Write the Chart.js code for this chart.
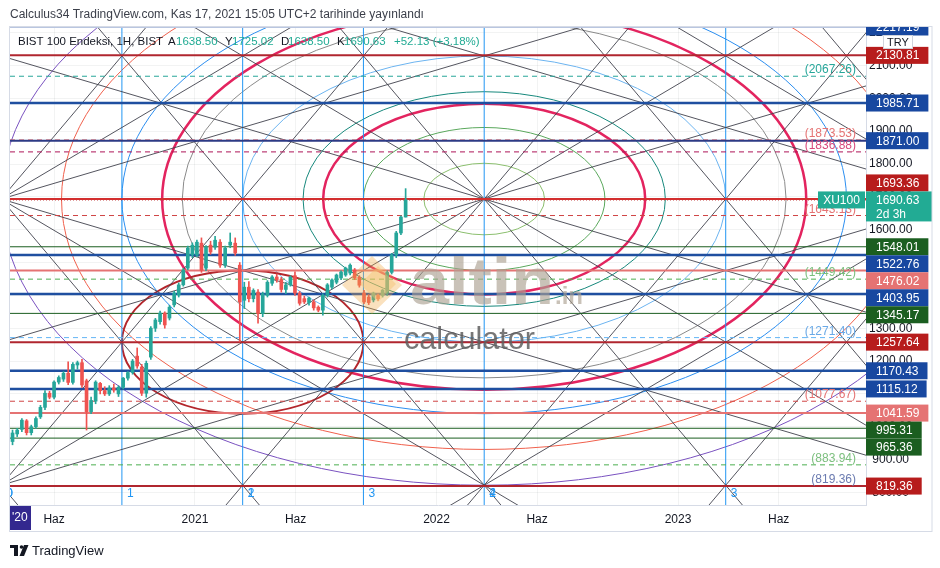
<!DOCTYPE html>
<html>
<head>
<meta charset="utf-8">
<script src="https://cdn.jsdelivr.net/npm/chart.js@4.4.1/dist/chart.umd.min.js"></script>
<style>
  html, body { margin: 0; padding: 0; background: #fff; }
  canvas { display: block; }
</style>
</head>
<body>
<canvas id="chart" width="940" height="568"></canvas>
<script>
// BIST 100 haftalık mumlar + Gann ızgarası, yayları ve seviye çizgileri (TradingView görüntüsünden)

const FONT = "'Trebuchet MS', 'Liberation Sans', Arial, sans-serif";

// ---- veriler ----
const firstWeek = '2020-03-23';
const candleOpen = [905, 955, 978, 992, 1018, 982, 1000, 1030, 1059, 1102, 1090, 1136, 1145, 1163, 1135, 1188, 1195, 1140, 1046, 1078,
  1132, 1110, 1100, 1118, 1100, 1120, 1148, 1165, 1215, 1182, 1102, 1212, 1300, 1320, 1346, 1331, 1371, 1401, 1432, 1483,
  1523, 1523, 1559, 1483, 1553, 1547, 1562, 1492, 1553, 1559, 1492, 1385, 1425, 1390, 1410, 1345, 1400, 1437, 1456, 1448,
  1418, 1432, 1460, 1407, 1390, 1378, 1380, 1364, 1355, 1400, 1425, 1440, 1453, 1462, 1468, 1477, 1455, 1407, 1395, 1386,
  1400, 1400, 1407, 1470, 1523, 1590, 1638.50];
const candleHigh = [975, 990, 995, 1025, 1022, 1005, 1030, 1065, 1110, 1108, 1140, 1155, 1168, 1198, 1195, 1200, 1205, 1145, 1090, 1140,
  1135, 1122, 1125, 1130, 1125, 1150, 1168, 1205, 1240, 1190, 1200, 1305, 1330, 1352, 1350, 1370, 1412, 1438, 1482, 1550,
  1560, 1568, 1575, 1552, 1565, 1580, 1570, 1550, 1590, 1575, 1500, 1440, 1442, 1420, 1418, 1410, 1445, 1460, 1465, 1455,
  1440, 1460, 1472, 1412, 1398, 1395, 1386, 1368, 1405, 1436, 1450, 1465, 1475, 1486, 1496, 1482, 1460, 1415, 1402, 1410,
  1404, 1418, 1475, 1528, 1595, 1642, 1725.02];
const candleLow = [895, 945, 970, 985, 975, 975, 995, 1025, 1052, 1085, 1085, 1130, 1138, 1128, 1130, 1175, 1120, 990, 1040, 1070,
  1100, 1095, 1095, 1105, 1092, 1115, 1142, 1160, 1178, 1095, 1090, 1205, 1290, 1312, 1300, 1325, 1365, 1395, 1428, 1478,
  1515, 1518, 1470, 1475, 1525, 1540, 1485, 1485, 1545, 1522, 1258, 1360, 1380, 1380, 1315, 1335, 1395, 1430, 1440, 1410,
  1405, 1428, 1400, 1370, 1375, 1370, 1355, 1350, 1340, 1395, 1420, 1435, 1448, 1458, 1462, 1448, 1425, 1375, 1372, 1380,
  1385, 1395, 1400, 1465, 1515, 1585, 1638.50];
const candleClose = [968, 981, 990, 1020, 982, 1000, 1025, 1059, 1102, 1090, 1136, 1150, 1163, 1135, 1190, 1195, 1127, 1046, 1080, 1136,
  1110, 1100, 1118, 1112, 1120, 1148, 1165, 1200, 1185, 1102, 1193, 1300, 1325, 1346, 1310, 1364, 1407, 1432, 1477, 1544,
  1553, 1562, 1477, 1547, 1532, 1568, 1492, 1544, 1562, 1529, 1380, 1425, 1390, 1415, 1345, 1405, 1440, 1456, 1448, 1418,
  1432, 1456, 1407, 1376, 1380, 1392, 1362, 1355, 1400, 1432, 1447, 1462, 1471, 1483, 1492, 1453, 1431, 1380, 1378, 1407,
  1390, 1416, 1470, 1523, 1590, 1638.50, 1690.63];

// zaman ekseni: 2020 Ocak başından itibaren ay
const timeTickMonths = [5, 12, 17, 24, 29, 36, 41];
const timeTickLabels = ['Haz', '2021', 'Haz', '2022', 'Haz', '2023', 'Haz'];
const priceTicks = [800, 900, 1000, 1100, 1200, 1300, 1400, 1500, 1600, 1700, 1800, 1900, 2000, 2100, 2200];

// yatay seviyeler
const levelPrices = [2130.81, 1985.71, 1871.00, 1693.36, 1548.01, 1522.76, 1476.02, 1403.95, 1345.17, 1257.64,
  1170.43, 1115.12, 1041.59, 995.31, 965.36, 819.36];
const levelKinds = ['darkred', 'blue', 'navy', 'red', 'green', 'blue', 'salmon', 'blue', 'green', 'darkred',
  'blue', 'blue', 'salmon', 'green', 'green', 'darkred'];
const notePrices = [2067.26, 1873.53, 1836.88, 1643.13, 1449.42, 1271.40, 1077.67, 883.94, 819.36];
const noteKinds = ['teal', 'rose', 'pink', 'red', 'lgreen', 'lblue', 'red', 'lgreen', 'slate'];

// Gann ızgarası
const gannNodePrice = 1693.36;
const gannNodeMonths = [-9.63, 2.37, 14.37, 26.37, 38.37, 50.37];
const gannFanMonths = [2.37, 26.37, 50.37];
const gannDiagonal = 72.62;          // fiyat / ay
const gannFanSlopes = [36.31, 18.155];

// yaylar (elipsler)
const arcCenter = [26.37, 1693.36];
const arcUnit = [6, 217.86];
const arcRadii = [0.5, 1, 1.5, 2, 2.5, 3, 3.5, 4];
const thickArcRadii = [4 / 3, 8 / 3];
const smallEllipse = [14.37, 1257.64, 6, 218];

// zaman döngüleri
const cycleAMonths = [2.37, 8.37, 14.37, 20.37, 26.37];
const cycleBMonths = [2.37, 14.37, 26.37, 38.37];

const lastPrice = 1690.63;
const topPrice = 2217.19;
const X_MIN = 2.81, X_MAX = 45.34;
const Y_MIN = 761.7, Y_MAX = 2217.19;

// ---- stiller ----
const UP = '#26a69a', DOWN = '#ef5350';
const LEVEL_STYLE = {
  darkred: { line: '#b0262f', width: 2, box: '#b71c1c' },
  blue:    { line: '#1f4fa0', width: 2.5, box: '#1848a0' },
  navy:    { line: '#2c3a85', width: 2, box: '#1848a0' },
  red:     { line: '#d32f2f', width: 2, box: '#b71c1c' },
  green:   { line: '#1b5e20', width: 1, box: '#1b5e20' },
  salmon:  { line: '#e57373', width: 2, box: '#e57373' }
};
const NOTE_STYLE = {
  teal:   { line: '#26a69a', text: '#26a69a' },
  rose:   { line: '#e57373', text: '#e57373' },
  pink:   { line: '#ad1457', text: '#d84a7c' },
  red:    { line: '#d04545', text: '#e57373' },
  lgreen: { line: '#4caf50', text: '#7cbf7e' },
  lblue:  { line: '#64b5f6', text: '#6aa9e6' },
  slate:  { line: null,      text: '#6b7bb0' }
};
const ARC_COLORS = ['#8bbf6e', '#5aa85c', '#16887c', '#6cb4f0', '#8a8a8a', '#2b8ef0', '#f0604c', '#7a52c0'];
const GANN_COLOR = 'rgba(65,67,78,0.9)';
const CYCLE_COLOR = '#2196f3';

// ---- yardımcılar ----
const toMonths = d => {
  const dim = new Date(Date.UTC(d.getUTCFullYear(), d.getUTCMonth() + 1, 0)).getUTCDate();
  return (d.getUTCFullYear() - 2020) * 12 + d.getUTCMonth() + (d.getUTCDate() - 1) / dim;
};
const candleMonths = candleOpen.map((_, i) => toMonths(new Date(Date.parse(firstWeek + 'T00:00:00Z') + i * 7 * 864e5)));
const candleColors = candleOpen.map((o, i) => candleClose[i] >= o ? UP : DOWN);

const lineDs = (pts, color, width, dash, order) => ({
  type: 'line', data: pts, borderColor: color, borderWidth: width, borderDash: dash || [],
  pointRadius: 0, fill: false, tension: 0, clip: 0, order
});
const rayThrough = (m, p, slope) => [
  { x: -20, y: p + slope * (-20 - m) },
  { x: 70, y: p + slope * (70 - m) }
];

const datasets = [];
datasets.push({
  type: 'bar', data: candleMonths.map((m, i) => ({ x: m, y: [candleOpen[i], candleClose[i]] })),
  backgroundColor: candleColors, barThickness: 3, minBarLength: 1, grouped: false, clip: 0, order: 0
});
datasets.push({
  type: 'bar', data: candleMonths.map((m, i) => ({ x: m, y: [candleLow[i], candleHigh[i]] })),
  backgroundColor: candleColors, barThickness: 1, grouped: false, clip: 0, order: 1
});
levelPrices.forEach((p, i) => {
  const st = LEVEL_STYLE[levelKinds[i]];
  datasets.push(lineDs([{ x: X_MIN, y: p }, { x: X_MAX, y: p }], st.line, st.width, null, 2));
});
datasets.push(lineDs([{ x: X_MIN, y: lastPrice }, { x: X_MAX, y: lastPrice }], '#b71c1c', 1, [1, 2], 2));
notePrices.forEach((p, i) => {
  const st = NOTE_STYLE[noteKinds[i]];
  if (st.line) datasets.push(lineDs([{ x: X_MIN, y: p }, { x: X_MAX, y: p }], st.line, 1, [5, 4], 3));
});
gannNodeMonths.forEach(m => {
  datasets.push(lineDs(rayThrough(m, gannNodePrice, gannDiagonal), GANN_COLOR, 1, null, 4));
  datasets.push(lineDs(rayThrough(m, gannNodePrice, -gannDiagonal), GANN_COLOR, 1, null, 4));
});
gannFanMonths.forEach(m => {
  gannFanSlopes.forEach(s => {
    datasets.push(lineDs(rayThrough(m, gannNodePrice, s), GANN_COLOR, 1, null, 4));
    datasets.push(lineDs(rayThrough(m, gannNodePrice, -s), GANN_COLOR, 1, null, 4));
  });
});
[...new Set([...cycleAMonths, ...cycleBMonths])].forEach(m => {
  datasets.push(lineDs([{ x: m, y: Y_MIN }, { x: m, y: Y_MAX }], CYCLE_COLOR, 1, null, 5));
});

// ---- çizim eklentisi ----
function clipArea(ctx, a) {
  ctx.beginPath();
  ctx.rect(a.left, a.top, a.right - a.left, a.bottom - a.top);
  ctx.clip();
}

function drawArcs(chart) {
  const { ctx, chartArea } = chart;
  const xs = chart.scales.x, ys = chart.scales.y;
  const ell = (m, p, dm, dp, color, width) => {
    const cx = xs.getPixelForValue(m), cy = ys.getPixelForValue(p);
    const rx = xs.getPixelForValue(m + dm) - cx, ry = cy - ys.getPixelForValue(p + dp);
    ctx.beginPath();
    ctx.ellipse(cx, cy, rx, ry, 0, 0, Math.PI * 2);
    ctx.strokeStyle = color;
    ctx.lineWidth = width;
    ctx.stroke();
  };
  ctx.save();
  clipArea(ctx, chartArea);
  arcRadii.forEach((r, i) => ell(arcCenter[0], arcCenter[1], r * arcUnit[0], r * arcUnit[1], ARC_COLORS[i], 1));
  thickArcRadii.forEach(r => ell(arcCenter[0], arcCenter[1], r * arcUnit[0], r * arcUnit[1], '#e3245f', 2.5));
  ell(smallEllipse[0], smallEllipse[1], smallEllipse[2], smallEllipse[3], '#b3262c', 2);
  ctx.restore();
}

function fitText(ctx, txt, x, y, width) {
  const sx = width / ctx.measureText(txt).width;
  ctx.save();
  ctx.translate(x, y);
  ctx.scale(sx, 1);
  ctx.fillText(txt, 0, 0);
  ctx.restore();
}

function drawWatermark(chart) {
  const ctx = chart.ctx;
  ctx.save();
  clipArea(ctx, chart.chartArea);
  // turuncu logo
  ctx.fillStyle = 'rgba(240,170,70,0.35)';
  ctx.beginPath();
  ctx.moveTo(372, 256); ctx.lineTo(402, 285); ctx.lineTo(372, 314); ctx.lineTo(342, 285);
  ctx.closePath(); ctx.fill();
  ctx.fillStyle = 'rgba(245,195,110,0.45)';
  ctx.beginPath();
  ctx.moveTo(378, 266); ctx.lineTo(396, 284); ctx.lineTo(378, 302); ctx.lineTo(360, 284);
  ctx.closePath(); ctx.fill();
  ctx.textBaseline = 'alphabetic';
  ctx.fillStyle = 'rgba(172,162,146,0.65)';
  ctx.font = `bold 66px ${FONT}`;
  fitText(ctx, 'altin', 410, 304, 144);
  ctx.font = `bold 24px ${FONT}`;
  ctx.fillText('.in', 555, 304);
  ctx.fillStyle = 'rgba(95,95,95,0.85)';
  ctx.font = `32px ${FONT}`;
  fitText(ctx, 'calculator', 404, 349, 131);
  ctx.restore();
}

function drawNotes(chart) {
  const { ctx, chartArea } = chart;
  const ys = chart.scales.y;
  ctx.save();
  ctx.font = `12px ${FONT}`;
  ctx.textAlign = 'right';
  ctx.textBaseline = 'alphabetic';
  notePrices.forEach((p, i) => {
    ctx.fillStyle = NOTE_STYLE[noteKinds[i]].text;
    ctx.fillText('(' + p.toFixed(2) + ')', chartArea.right - 10, ys.getPixelForValue(p) - 3);
  });
  // döngü numaraları
  clipArea(ctx, chartArea);
  ctx.textAlign = 'left';
  ctx.textBaseline = 'middle';
  ctx.fillStyle = CYCLE_COLOR;
  const xs = chart.scales.x;
  cycleAMonths.forEach((m, i) => ctx.fillText(String(i), xs.getPixelForValue(m) + 5, chartArea.bottom - 11));
  cycleBMonths.forEach((m, i) => ctx.fillText(String(i), xs.getPixelForValue(m) + 5, chartArea.bottom - 11));
  ctx.restore();
}

function drawPriceTags(chart) {
  const { ctx, chartArea } = chart;
  const ys = chart.scales.y;
  const H = 17, left = chartArea.right;
  const lastY = ys.getPixelForValue(lastPrice);
  const fixTop = lastY - H / 2, fixBot = fixTop + 30;
  const tags = levelPrices.map((p, i) => ({ p, y: ys.getPixelForValue(p), color: LEVEL_STYLE[levelKinds[i]].box }));
  tags.push({ p: topPrice, y: ys.getPixelForValue(topPrice), color: '#1848a0' });
  let lim = fixTop;
  tags.filter(t => t.p > lastPrice).sort((a, b) => b.y - a.y).forEach(t => {
    t.cy = Math.min(t.y, lim - H / 2); lim = t.cy - H / 2;
  });
  lim = fixBot;
  tags.filter(t => t.p <= lastPrice).sort((a, b) => a.y - b.y).forEach(t => {
    t.cy = Math.max(t.y, lim + H / 2); lim = t.cy + H / 2;
  });

  ctx.save();
  ctx.beginPath();
  ctx.rect(left, chartArea.top, 80, chartArea.bottom - chartArea.top);
  ctx.clip();
  ctx.font = `12px ${FONT}`;
  ctx.textBaseline = 'middle';
  ctx.textAlign = 'left';
  tags.forEach(t => {
    const txt = t.p.toFixed(2);
    const w = ctx.measureText(txt).width + 19;
    ctx.fillStyle = t.color;
    ctx.fillRect(left, t.cy - H / 2, w, H);
    ctx.fillStyle = '#fff';
    ctx.fillText(txt, left + 10, t.cy + 0.5);
  });
  // güncel fiyat
  ctx.fillStyle = '#22ab94';
  ctx.fillRect(left, fixTop, 66, 30);
  ctx.fillStyle = '#fff';
  ctx.fillText(lastPrice.toFixed(2), left + 10, lastY + 0.5);
  ctx.fillText('2d 3h', left + 10, lastY + 15);
  ctx.restore();

  // XU100 etiketi
  ctx.save();
  ctx.font = `12px ${FONT}`;
  ctx.fillStyle = '#22ab94';
  ctx.fillRect(left - 48, fixTop, 47, H);
  ctx.fillStyle = '#fff';
  ctx.textAlign = 'center';
  ctx.textBaseline = 'middle';
  ctx.fillText('XU100', left - 24.5, lastY + 0.5);
  // TRY
  ctx.fillStyle = '#fff';
  ctx.strokeStyle = '#d1d4dc';
  ctx.lineWidth = 1;
  ctx.fillRect(883.5, 35.5, 29, 13);
  ctx.strokeRect(883.5, 35.5, 29, 13);
  ctx.fillStyle = '#131722';
  ctx.font = `11px ${FONT}`;
  ctx.fillText('TRY', 898, 42.5);
  ctx.restore();
}

function drawFrameAndText(chart) {
  const { ctx, chartArea } = chart;
  ctx.save();
  ctx.strokeStyle = '#d6dbe6';
  ctx.lineWidth = 1;
  ctx.strokeRect(9.5, chartArea.top - 0.5, 932 - 9.5, 532 - chartArea.top);
  ctx.strokeStyle = '#b9c6e0';
  ctx.beginPath(); ctx.moveTo(10, chartArea.top + 0.5); ctx.lineTo(chartArea.right, chartArea.top + 0.5); ctx.stroke();

  // başlık
  ctx.font = `12px ${FONT}`;
  ctx.textBaseline = 'middle';
  ctx.textAlign = 'left';
  ctx.fillStyle = '#3b3f4a';
  ctx.fillText('Calculus34 TradingView.com, Kas 17, 2021 15:05 UTC+2 tarihinde yayınlandı', 10, 15);

  // gösterge satırı
  const parts = [
    ['BIST 100 Endeksi, 1H, BIST', '#131722', 18], ['A', '#131722', 168], ['1638.50', '#22ab94', 176],
    ['Y', '#131722', 225], ['1725.02', '#22ab94', 232], ['D', '#131722', 281], ['1638.50', '#22ab94', 288],
    ['K', '#131722', 337], ['1690.63', '#22ab94', 344], ['+52.13 (+3.18%)', '#22ab94', 394]
  ];
  ctx.font = `11.5px ${FONT}`;
  parts.forEach(([t, c, x]) => {
    ctx.fillStyle = c;
    ctx.fillText(t, x, 42);
  });

  // '20 kutusu
  ctx.font = `12px ${FONT}`;
  ctx.fillStyle = '#33288f';
  ctx.fillRect(10, chartArea.bottom + 1, 21, 24);
  ctx.fillStyle = '#fff';
  ctx.fillText("'20", 12, chartArea.bottom + 13);

  // TradingView alt yazısı
  ctx.fillStyle = '#131722';
  ctx.fillRect(10, 545, 8, 3);
  ctx.fillRect(14, 545, 4, 11);
  ctx.beginPath(); ctx.arc(21.5, 547, 1.8, 0, Math.PI * 2); ctx.fill();
  ctx.beginPath();
  ctx.moveTo(24, 545); ctx.lineTo(28.5, 545); ctx.lineTo(24, 556); ctx.lineTo(19.5, 556);
  ctx.closePath(); ctx.fill();
  ctx.font = `13px ${FONT}`;
  ctx.fillText('TradingView', 32, 551);
  ctx.restore();
}

const overlay = {
  id: 'overlay',
  beforeDatasetsDraw: drawArcs,
  afterDatasetsDraw: drawWatermark,
  afterDraw(chart) {
    drawNotes(chart);
    drawPriceTags(chart);
    drawFrameAndText(chart);
  }
};

Chart.defaults.font.family = FONT;
Chart.defaults.font.size = 12;
Chart.defaults.color = '#131722';

new Chart(document.getElementById('chart'), {
  type: 'bar',
  data: { datasets },
  plugins: [overlay],
  options: {
    responsive: false,
    animation: false,
    devicePixelRatio: 1,
    events: [],
    layout: { padding: { left: 10, top: 27, right: 8, bottom: 36 } },
    plugins: { legend: { display: false }, tooltip: { enabled: false } },
    scales: {
      x: {
        type: 'linear', min: X_MIN, max: X_MAX, offset: false,
        afterBuildTicks: s => { s.ticks = timeTickMonths.map(v => ({ value: v })); },
        afterFit: s => { s.height = 27; },
        ticks: { callback: (v, i) => timeTickLabels[i], padding: 7, maxRotation: 0, autoSkip: false, color: '#131722' },
        grid: { color: 'rgba(42,46,57,0.06)', drawTicks: false, offset: false },
        border: { color: '#d6dbe6' }
      },
      y: {
        type: 'linear', position: 'right', min: Y_MIN, max: Y_MAX,
        afterBuildTicks: s => { s.ticks = priceTicks.map(v => ({ value: v })); },
        afterFit: s => { s.width = 66; },
        ticks: { callback: v => v.toFixed(2), crossAlign: 'center', color: '#131722' },
        grid: { color: 'rgba(42,46,57,0.06)', drawTicks: false },
        border: { color: '#d6dbe6' }
      }
    }
  }
});
</script>
</body>
</html>
